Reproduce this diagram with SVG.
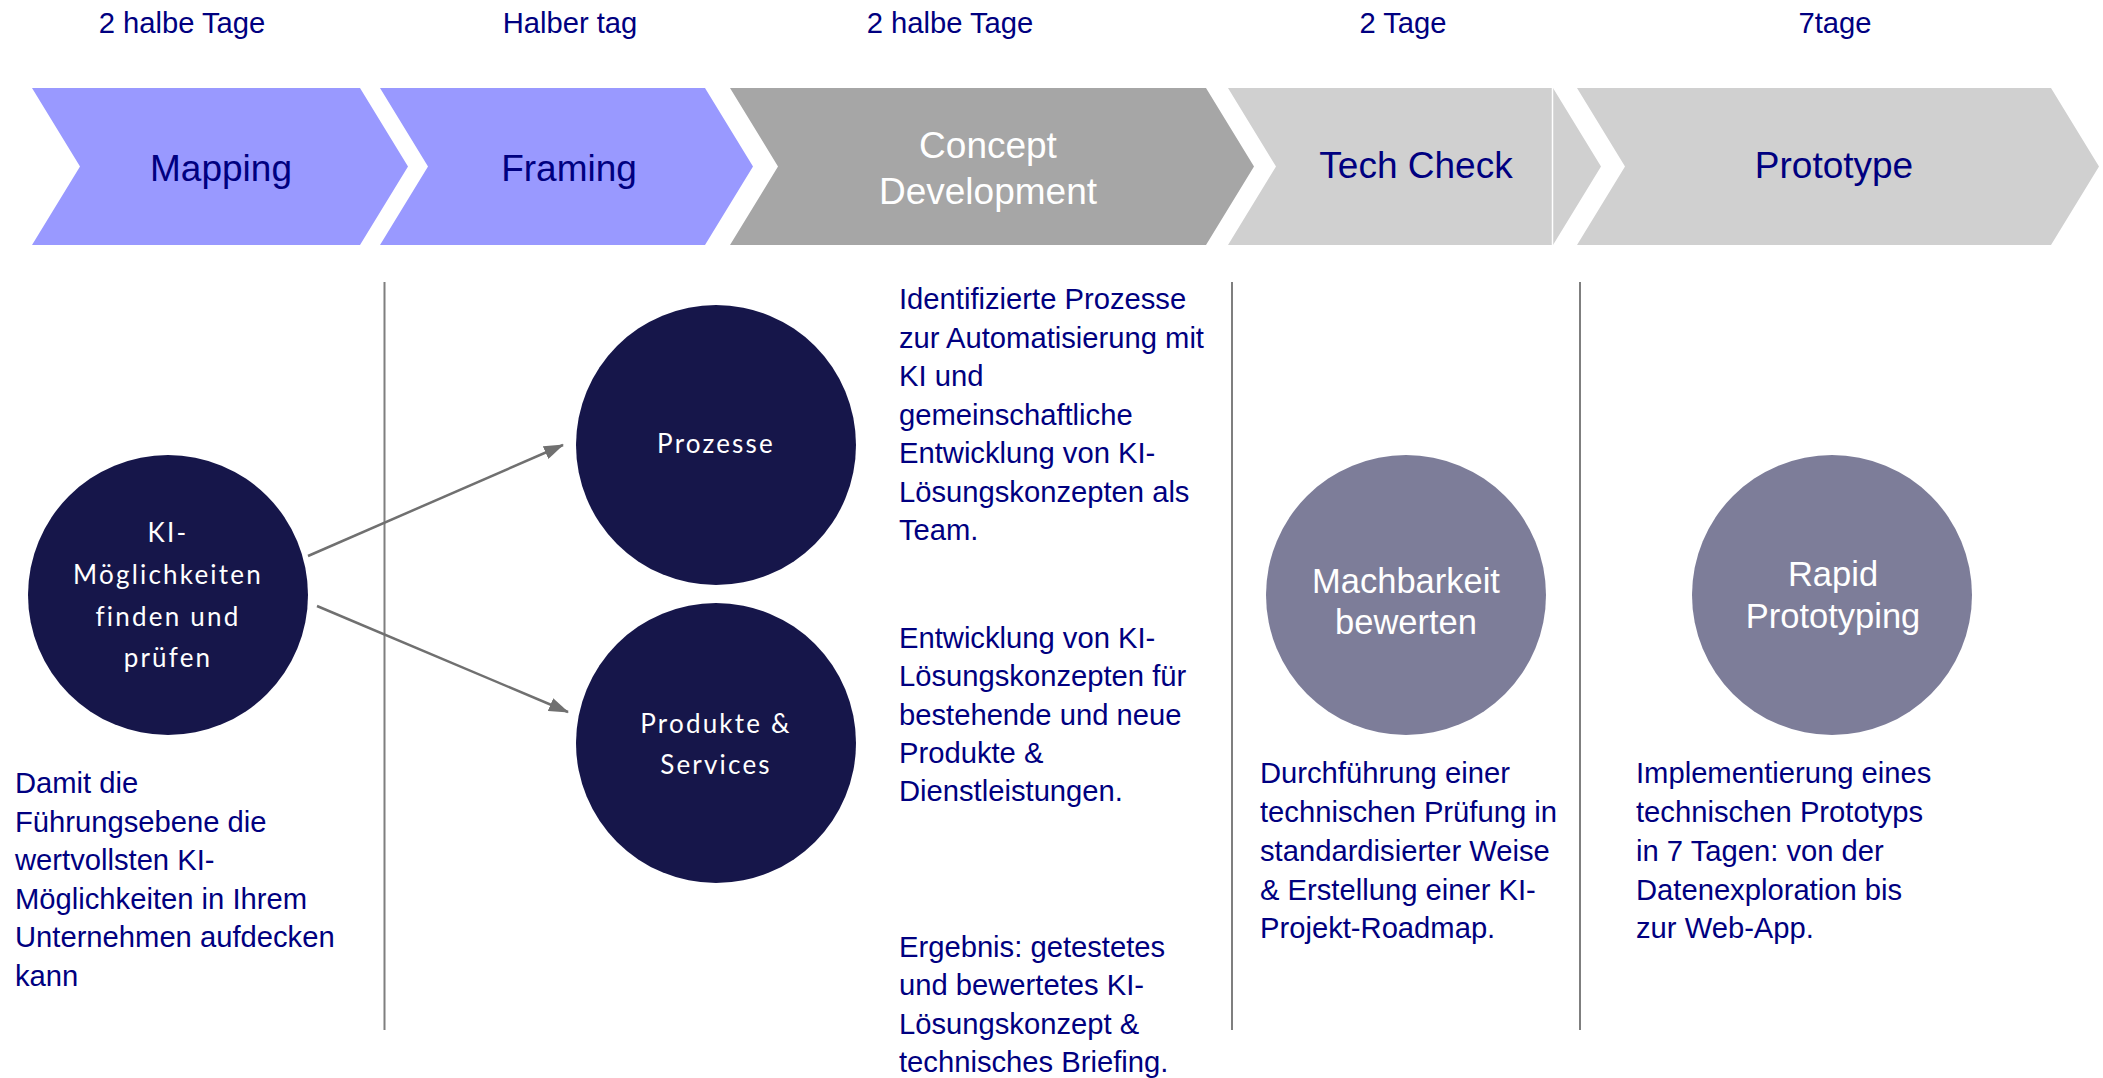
<svg xmlns="http://www.w3.org/2000/svg" width="2103" height="1078" viewBox="0 0 2103 1078">
<defs>
<style>
.lbl{font-family:"Liberation Sans",Arial,sans-serif;fill:#000080;font-size:29.2px}
.top{text-anchor:middle}
.chev{font-family:"Liberation Sans",Arial,sans-serif;font-size:37px;text-anchor:middle}
.navy{fill:#000080}
.white{fill:#ffffff}
.c1{fill:#9999FF}
.c2{fill:#A6A6A6}
.c3{fill:#D0D0D0}
.dark{fill:#16164A}
.mid{fill:#7D7D99}
.ft{font-family:Lato,"Open Sans",sans-serif;font-size:26px;fill:#ffffff;text-anchor:middle;letter-spacing:2.2px}
.ct{font-family:"Liberation Sans",Arial,sans-serif;font-size:34.5px;fill:#ffffff;text-anchor:middle}
.div{stroke:#7F7F7F;stroke-width:2;fill:none}
.conn{stroke:#707070;stroke-width:2.5;fill:none}
</style>
<marker id="ah" markerUnits="userSpaceOnUse" markerWidth="20" markerHeight="14" refX="19" refY="7" orient="auto">
<path d="M0,0 L20,7 L0,14 z" fill="#707070"/>
</marker>
</defs>
<rect width="2103" height="1078" fill="#ffffff"/>

<g id="durations">
<text class="lbl top" x="182" y="33">2 halbe Tage</text>
<text class="lbl top" x="570" y="33">Halber tag</text>
<text class="lbl top" x="950" y="33">2 halbe Tage</text>
<text class="lbl top" x="1403" y="33">2 Tage</text>
<text class="lbl top" x="1835" y="33">7tage</text>
</g>

<g id="chevron-mapping">
<polygon class="c1" points="32,88 360,88 408,166.5 360,245 32,245 80,166.5"/>
<text class="chev navy" x="221" y="181">Mapping</text>
</g>
<g id="chevron-framing">
<polygon class="c1" points="380,88 705,88 753,166.5 705,245 380,245 428,166.5"/>
<text class="chev navy" x="569" y="181">Framing</text>
</g>
<g id="chevron-concept">
<polygon class="c2" points="730,88 1206,88 1254,166.5 1206,245 730,245 778,166.5"/>
<text class="chev white" x="988" y="158">Concept</text>
<text class="chev white" x="988" y="204">Development</text>
</g>
<g id="chevron-techcheck">
<polygon class="c3" points="1228,88 1553,88 1601,166.5 1553,245 1228,245 1276,166.5"/>
<line x1="1552.5" y1="88" x2="1552.5" y2="245" stroke="#ffffff" stroke-width="1.5"/>
<text class="chev navy" x="1416" y="178">Tech Check</text>
</g>
<g id="chevron-prototype">
<polygon class="c3" points="1577,88 2051,88 2099,166.5 2051,245 1577,245 1625,166.5"/>
<text class="chev navy" x="1834" y="178">Prototype</text>
</g>

<g id="dividers">
<line class="div" x1="384.5" y1="282" x2="384.5" y2="1030"/>
<line class="div" x1="1232" y1="282" x2="1232" y2="1030"/>
<line class="div" x1="1580" y1="282" x2="1580" y2="1030"/>
</g>

<g id="connectors">
<line class="conn" x1="308" y1="556" x2="563" y2="445" marker-end="url(#ah)"/>
<line class="conn" x1="317" y1="606" x2="568" y2="712" marker-end="url(#ah)"/>
</g>

<g id="node-ki">
<circle class="dark" cx="168" cy="595" r="140"/>
<text class="ft" x="168" y="542">KI-</text>
<text class="ft" x="168" y="584">Möglichkeiten</text>
<text class="ft" x="168" y="625.5">finden und</text>
<text class="ft" x="168" y="667">prüfen</text>
</g>
<g id="node-prozesse">
<circle class="dark" cx="716" cy="445" r="140"/>
<text class="ft" x="716" y="453">Prozesse</text>
</g>
<g id="node-produkte">
<circle class="dark" cx="716" cy="743" r="140"/>
<text class="ft" x="716" y="733">Produkte &amp;</text>
<text class="ft" x="716" y="774">Services</text>
</g>
<g id="node-machbarkeit">
<circle class="mid" cx="1406" cy="595" r="140"/>
<text class="ct" x="1406" y="593">Machbarkeit</text>
<text class="ct" x="1406" y="634">bewerten</text>
</g>
<g id="node-rapid">
<circle class="mid" cx="1832" cy="595" r="140"/>
<text class="ct" x="1833" y="586">Rapid</text>
<text class="ct" x="1833" y="628">Prototyping</text>
</g>

<g id="text-mapping">
<text class="lbl" x="15" y="793">Damit die</text>
<text class="lbl" x="15" y="831.5">Führungsebene die</text>
<text class="lbl" x="15" y="870">wertvollsten KI-</text>
<text class="lbl" x="15" y="908.5">Möglichkeiten in Ihrem</text>
<text class="lbl" x="15" y="947">Unternehmen aufdecken</text>
<text class="lbl" x="15" y="985.5">kann</text>
</g>

<g id="text-concept-1">
<text class="lbl" x="899" y="309">Identifizierte Prozesse</text>
<text class="lbl" x="899" y="347.5">zur Automatisierung mit</text>
<text class="lbl" x="899" y="386">KI und</text>
<text class="lbl" x="899" y="424.5">gemeinschaftliche</text>
<text class="lbl" x="899" y="463">Entwicklung von KI-</text>
<text class="lbl" x="899" y="501.5">Lösungskonzepten als</text>
<text class="lbl" x="899" y="540">Team.</text>
</g>
<g id="text-concept-2">
<text class="lbl" x="899" y="647.5">Entwicklung von KI-</text>
<text class="lbl" x="899" y="686">Lösungskonzepten für</text>
<text class="lbl" x="899" y="724.5">bestehende und neue</text>
<text class="lbl" x="899" y="763">Produkte &amp;</text>
<text class="lbl" x="899" y="801">Dienstleistungen.</text>
</g>
<g id="text-concept-3">
<text class="lbl" x="899" y="956.5">Ergebnis: getestetes</text>
<text class="lbl" x="899" y="995">und bewertetes KI-</text>
<text class="lbl" x="899" y="1033.5">Lösungskonzept &amp;</text>
<text class="lbl" x="899" y="1072">technisches Briefing.</text>
</g>

<g id="text-techcheck">
<text class="lbl" x="1260" y="783">Durchführung einer</text>
<text class="lbl" x="1260" y="822">technischen Prüfung in</text>
<text class="lbl" x="1260" y="861">standardisierter Weise</text>
<text class="lbl" x="1260" y="899.5">&amp; Erstellung einer KI-</text>
<text class="lbl" x="1260" y="938">Projekt-Roadmap.</text>
</g>
<g id="text-prototype">
<text class="lbl" x="1636" y="783">Implementierung eines</text>
<text class="lbl" x="1636" y="822">technischen Prototyps</text>
<text class="lbl" x="1636" y="861">in 7 Tagen: von der</text>
<text class="lbl" x="1636" y="899.5">Datenexploration bis</text>
<text class="lbl" x="1636" y="938">zur Web-App.</text>
</g>
</svg>
